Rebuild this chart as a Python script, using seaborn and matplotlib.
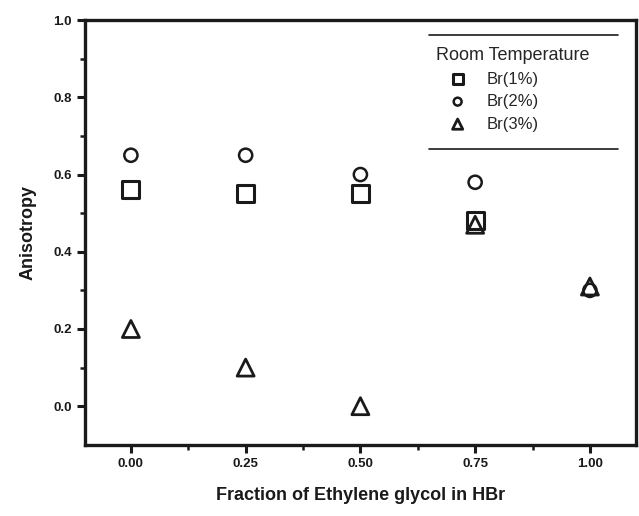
import pandas as pd
from matplotlib import pyplot as plt
import seaborn as sns

fraction = [0.00, 0.25, 0.50, 0.75, 1.00]
br1 = [0.56, 0.55, 0.55, 0.48]
br2 = [0.65, 0.65, 0.60, 0.58, 0.30]
br3 = [0.20, 0.10, 0.00, 0.47, 0.31]

series = {
    "Br(1%)": (fraction[:len(br1)], br1, "s", 150, 2.2),
    "Br(2%)": (fraction, br2, "o", 90, 1.8),
    "Br(3%)": (fraction, br3, "^", 150, 2.0),
}

sns.set_theme(style="ticks")
plt.rcParams["font.family"] = ["Liberation Sans", "DejaVu Sans"]

fig = plt.figure(figsize=(6.39, 5.16), dpi=100)
ax = fig.add_axes([0.133, 0.138, 0.862, 0.823])

for name, (xs, ys, mk, sz, lw) in series.items():
    d = pd.DataFrame({"x": xs, "y": ys})
    sns.scatterplot(data=d, x="x", y="y", marker=mk, s=sz, facecolor="none",
                    edgecolor="#1a1a1a", linewidth=lw, ax=ax, label=name)

ax.set_xlim(-0.1, 1.1)
ax.set_ylim(-0.1, 1.0)
ax.set_xticks([0.0, 0.25, 0.5, 0.75, 1.0])
ax.set_xticklabels(["0.00", "0.25", "0.50", "0.75", "1.00"])
ax.set_xticks([0.125, 0.375, 0.625, 0.875], minor=True)
ax.set_yticks([0.0, 0.2, 0.4, 0.6, 0.8, 1.0])
ax.set_yticks([0.1, 0.3, 0.5, 0.7, 0.9], minor=True)
ax.tick_params(which="major", length=6, width=2.2, labelsize=9.5, colors="#1a1a1a")
ax.tick_params(which="minor", length=3.5, width=1.8, colors="#1a1a1a")
for lab in ax.get_xticklabels() + ax.get_yticklabels():
    lab.set_fontweight("bold")
for sp in ax.spines.values():
    sp.set_linewidth(2.4)
    sp.set_color("#1a1a1a")

ax.set_xlabel("Fraction of Ethylene glycol in HBr", fontsize=13, fontweight="bold",
              labelpad=12, color="#1a1a1a")
ax.set_ylabel("Anisotropy", fontsize=13, fontweight="bold", labelpad=12, color="#1a1a1a")

leg = ax.legend(loc="upper left", bbox_to_anchor=(0.61, 0.972), frameon=False,
                title="Room Temperature", fontsize=12, title_fontsize=13,
                handlelength=2.6, handletextpad=0.45, labelspacing=0.45,
                markerscale=0.6)
leg._legend_box.align = "left"
# horizontal rules above and below the legend
ax.plot([0.625, 0.967], [0.965, 0.965], transform=ax.transAxes, color="#1a1a1a", lw=1.2)
ax.plot([0.625, 0.967], [0.697, 0.697], transform=ax.transAxes, color="#1a1a1a", lw=1.2)

fig.savefig("out.png", dpi=100)
